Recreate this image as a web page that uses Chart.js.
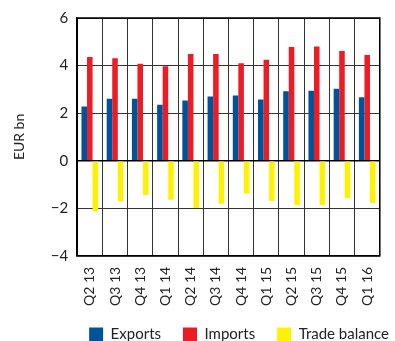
<!DOCTYPE html>
<html>
<head>
<meta charset="utf-8">
<script src="https://cdn.jsdelivr.net/npm/chart.js@4"></script>
<style>
  body { margin: 0; background: #fff; }
  #wrap { width: 395px; height: 341px; }
</style>
</head>
<body>
<div id="wrap"><canvas id="mychart" width="395" height="341"></canvas></div>
<script>
// quarters on the x axis
const labels = ["Q2 13", "Q3 13", "Q4 13", "Q1 14", "Q2 14", "Q3 14", "Q4 14", "Q1 15", "Q2 15", "Q3 15", "Q4 15", "Q1 16"];

// EUR bn
const exports = [2.28, 2.60, 2.61, 2.35, 2.53, 2.70, 2.74, 2.57, 2.92, 2.94, 3.03, 2.67];
const imports = [4.36, 4.31, 4.08, 3.97, 4.49, 4.49, 4.10, 4.24, 4.78, 4.80, 4.61, 4.44];
const tradeBalance = [-2.11, -1.72, -1.44, -1.64, -1.99, -1.81, -1.38, -1.69, -1.86, -1.86, -1.57, -1.78];

const yTicks = [-4, -2, 0, 2, 4, 6];

Chart.defaults.font.family = "Lato, 'Noto Sans', sans-serif";
Chart.defaults.color = "#222";

const ctx = document.getElementById("mychart").getContext("2d");

const data = {
  labels: labels,
  datasets: [
    { label: "Exports", data: exports, backgroundColor: "#00539b" },
    { label: "Imports", data: imports, backgroundColor: "#ed1c24" },
    { label: "Trade balance", data: tradeBalance, backgroundColor: "#fff200" }
  ]
};

// move the legend to where the original has it (right aligned, low down)
const legendSpot = {
  id: "legendSpot",
  afterLayout(chart) {
    const lg = chart.legend;
    const dx = 411 - lg.right;
    lg.left += dx;
    lg.right += dx;
    const dy = 305 - lg.top;
    lg.top += dy;
    lg.bottom += dy;
  }
};

// black frame round the plot
const frame = {
  id: "frame",
  afterDraw(chart) {
    const a = chart.chartArea;
    const c = chart.ctx;
    c.save();
    c.strokeStyle = "#000";
    c.lineWidth = 1.5;
    c.strokeRect(a.left, a.top, a.right - a.left, a.bottom - a.top);
    c.restore();
  }
};

const config = {
  type: "bar",
  data: data,
  options: {
    responsive: false,
    animation: false,
    layout: { padding: { left: 11, right: -9, top: 3, bottom: -23 } },
    datasets: {
      bar: { categoryPercentage: 0.66, barPercentage: 1.0 }
    },
    plugins: {
      tooltip: { enabled: false },
      legend: {
        position: "bottom",
        align: "end",
        labels: {
          boxWidth: 14,
          boxHeight: 14,
          padding: 22,
          font: { size: 15 }
        }
      }
    },
    scales: {
      x: {
        grid: { color: "#333", lineWidth: 1, drawTicks: false, offset: true },
        border: { color: "#000", width: 1.5 },
        ticks: {
          minRotation: 90,
          maxRotation: 90,
          autoSkip: false,
          padding: 11,
          font: { size: 14 }
        }
      },
      y: {
        min: -4,
        max: 6,
        afterBuildTicks: axis => { axis.ticks = yTicks.map(v => ({ value: v })); },
        grid: {
          color: c => (c.tick && c.tick.value === 0 ? "#000" : "#333"),
          lineWidth: c => (c.tick && c.tick.value === 0 ? 1.5 : 1),
          drawTicks: false
        },
        border: { color: "#000", width: 1.5 },
        ticks: {
          padding: 9,
          font: { size: 15 },
          callback: v => (v < 0 ? "\u2212" + Math.abs(v) : "" + v)
        },
        title: {
          display: true,
          text: "EUR bn",
          font: { size: 14 },
          padding: { top: 0, bottom: 14 }
        }
      }
    }
  },
  plugins: [legendSpot, frame]
};

const mychart = new Chart(ctx, config);
</script>
</body>
</html>
